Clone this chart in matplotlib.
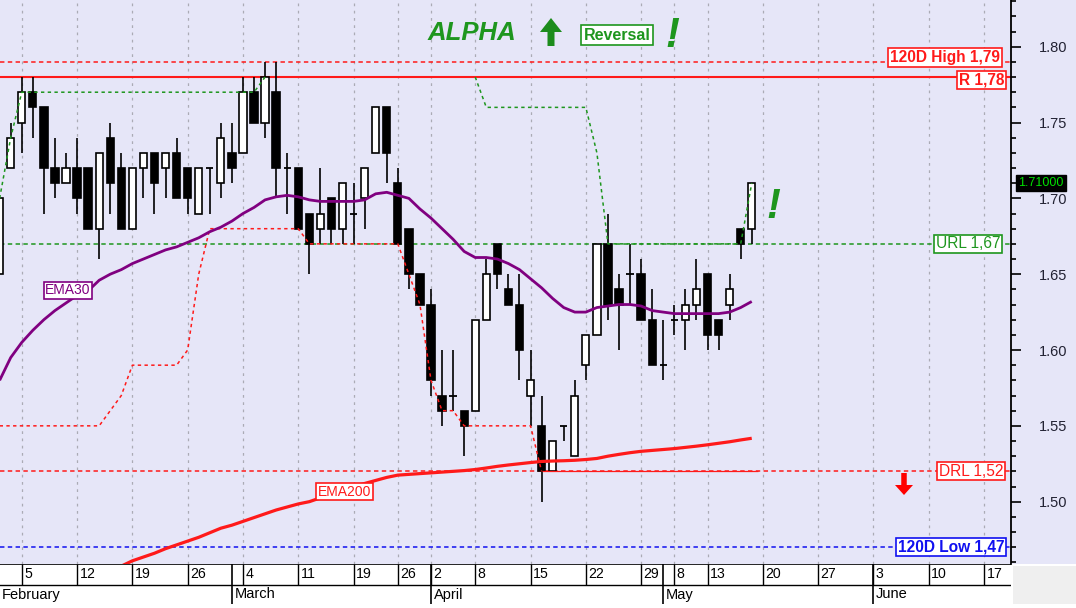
import matplotlib
matplotlib.use("Agg")
import matplotlib.pyplot as plt
import numpy as np
from matplotlib.patches import Polygon, Rectangle
from matplotlib.transforms import IdentityTransform, blended_transform_factory

plt.rcParams['font.family'] = ['Liberation Sans', 'DejaVu Sans']

W, H, DPI = 1076, 608, 100

# ---------------- data ----------------
opens = [1.65, 1.72, 1.75, 1.77, 1.76, 1.72, 1.71, 1.72, 1.72, 1.68,
         1.74, 1.72, 1.68, 1.72, 1.73, 1.72, 1.73, 1.72, 1.69, 1.72,
         1.71, 1.73, 1.73, 1.77, 1.75, 1.77, 1.72, 1.72, 1.69, 1.68,
         1.70, 1.68, 1.69, 1.70, 1.73, 1.76, 1.71, 1.68, 1.65, 1.63,
         1.57, 1.57, 1.56, 1.56, 1.62, 1.67, 1.64, 1.63, 1.57, 1.55,
         1.52, 1.55, 1.53, 1.59, 1.61, 1.67, 1.64, 1.65, 1.65, 1.62,
         1.59, 1.62, 1.62, 1.63, 1.65, 1.62, 1.63, 1.68, 1.68]
highs = [1.70, 1.75, 1.78, 1.78, 1.76, 1.74, 1.73, 1.74, 1.72, 1.73,
         1.75, 1.73, 1.72, 1.73, 1.73, 1.73, 1.74, 1.72, 1.72, 1.72,
         1.75, 1.75, 1.78, 1.78, 1.79, 1.79, 1.73, 1.72, 1.69, 1.72,
         1.70, 1.71, 1.71, 1.72, 1.76, 1.76, 1.72, 1.68, 1.65, 1.64,
         1.60, 1.60, 1.56, 1.62, 1.66, 1.67, 1.65, 1.65, 1.60, 1.57,
         1.54, 1.55, 1.58, 1.61, 1.67, 1.69, 1.65, 1.67, 1.66, 1.64,
         1.62, 1.63, 1.64, 1.66, 1.65, 1.62, 1.65, 1.68, 1.71]
lows = [1.65, 1.72, 1.73, 1.74, 1.69, 1.70, 1.71, 1.69, 1.68, 1.66,
        1.69, 1.68, 1.68, 1.70, 1.69, 1.70, 1.70, 1.69, 1.69, 1.69,
        1.70, 1.71, 1.73, 1.75, 1.74, 1.70, 1.69, 1.68, 1.65, 1.67,
        1.67, 1.67, 1.67, 1.68, 1.73, 1.71, 1.67, 1.64, 1.63, 1.57,
        1.55, 1.56, 1.53, 1.56, 1.62, 1.64, 1.63, 1.58, 1.55, 1.50,
        1.52, 1.54, 1.53, 1.58, 1.61, 1.62, 1.60, 1.63, 1.62, 1.59,
        1.58, 1.61, 1.60, 1.62, 1.60, 1.60, 1.62, 1.66, 1.67]
closes = [1.70, 1.74, 1.77, 1.76, 1.72, 1.71, 1.72, 1.70, 1.68, 1.73,
          1.71, 1.68, 1.72, 1.73, 1.71, 1.73, 1.70, 1.70, 1.72, 1.72,
          1.74, 1.72, 1.77, 1.75, 1.78, 1.72, 1.72, 1.68, 1.67, 1.69,
          1.68, 1.71, 1.69, 1.72, 1.76, 1.73, 1.67, 1.65, 1.63, 1.58,
          1.56, 1.57, 1.55, 1.62, 1.65, 1.65, 1.63, 1.60, 1.58, 1.52,
          1.54, 1.55, 1.57, 1.61, 1.67, 1.63, 1.63, 1.65, 1.62, 1.59,
          1.59, 1.62, 1.63, 1.64, 1.61, 1.61, 1.64, 1.67, 1.71]

ema30 = [1.580, 1.595, 1.605, 1.613, 1.620, 1.626, 1.631, 1.636, 1.639, 1.646,
         1.650, 1.653, 1.657, 1.660, 1.663, 1.666, 1.668, 1.671, 1.674, 1.678,
         1.681, 1.685, 1.690, 1.694, 1.699, 1.701, 1.702, 1.701, 1.699, 1.698,
         1.698, 1.698, 1.698, 1.699, 1.703, 1.704, 1.702, 1.700, 1.693, 1.687,
         1.680, 1.673, 1.665, 1.661, 1.661, 1.660, 1.657, 1.653, 1.647, 1.641,
         1.634, 1.628, 1.625, 1.625, 1.628, 1.629, 1.630, 1.630, 1.629, 1.626,
         1.625, 1.624, 1.624, 1.624, 1.624, 1.624, 1.625, 1.628, 1.632]

ema200_first = 11
ema200 = [1.4575, 1.4610, 1.4635, 1.4660, 1.4690, 1.4715, 1.4740, 1.4765, 1.4795,
          1.4825, 1.4845, 1.4870, 1.4895, 1.4920, 1.4945, 1.4965, 1.4985, 1.5000,
          1.5025, 1.5055, 1.5080, 1.5100, 1.5120, 1.5140, 1.5160, 1.5175, 1.5180,
          1.5185, 1.5190, 1.5195, 1.5200, 1.5205, 1.5212, 1.5222, 1.5233, 1.5242,
          1.5250, 1.5258, 1.5265, 1.5268, 1.5270, 1.5273, 1.5278, 1.5285, 1.5300,
          1.5312, 1.5323, 1.5332, 1.5338, 1.5344, 1.5350, 1.5358, 1.5366, 1.5375,
          1.5385, 1.5395, 1.5407, 1.5418]

nan = np.nan
upper_stop = [1.70, 1.74, 1.77, 1.77, 1.77, 1.77, 1.77, 1.77, 1.77, 1.77,
              1.77, 1.77, 1.77, 1.77, 1.77, 1.77, 1.77, 1.77, 1.77, 1.77,
              1.77, 1.77, 1.77, 1.77, 1.78, nan, nan, nan, nan, nan,
              nan, nan, nan, nan, nan, nan, nan, nan, nan, nan,
              nan, nan, nan, 1.78, 1.76, 1.76, 1.76, 1.76, 1.76, 1.76,
              1.76, 1.76, 1.76, 1.76, 1.73, 1.67, 1.67, 1.67, 1.67, 1.67,
              1.67, 1.67, 1.67, 1.67, 1.67, 1.67, 1.67, 1.67, 1.71]
lower_stop = [1.55, 1.55, 1.55, 1.55, 1.55, 1.55, 1.55, 1.55, 1.55, 1.55,
              1.56, 1.57, 1.59, 1.59, 1.59, 1.59, 1.59, 1.60, 1.65, 1.68,
              1.68, 1.68, 1.68, 1.68, 1.68, 1.68, 1.68, 1.68, 1.67, 1.67,
              1.67, 1.67, 1.67, 1.67, 1.67, 1.67, 1.67, 1.65, 1.63, 1.58,
              1.56, 1.56, 1.55, 1.55, 1.55, 1.55, 1.55, 1.55, 1.55, 1.52]

week_pos = [2, 7, 12, 17, 22, 27, 32, 36, 39, 43, 48, 53, 58, 61, 64, 69, 74, 79, 84, 89]
week_labels = ["5", "12", "19", "26", "4", "11", "19", "26", "2", "8", "15", "22",
               "29", "8", "13", "20", "27", "3", "10", "17"]
month_pos = [0, 21, 39, 60, 79]
month_labels = ["February", "March", "April", "May", "June"]

high120 = 1.79
resist = 1.78
url_level = 1.67
drl_level = 1.52
low120 = 1.47
last_price = 1.71

# ---------------- style ----------------
BG = '#E6E6F8'
RED = '#FF1A1A'
GREEN = '#1E961E'
BLUE = '#1010F0'
PURPLE = '#800080'

fig = plt.figure(figsize=(W / DPI, H / DPI), dpi=DPI, facecolor='white')

PLOT_R = 1011
PLOT_B = 564
ax = fig.add_axes([0, 1 - PLOT_B / H, PLOT_R / W, PLOT_B / H])
ax.set_facecolor(BG)
ax.set_xlim(0.033, 91.44)
ax.set_ylim(1.4589, 1.8308)

# right panel backgrounds
fig.patches.append(Rectangle((PLOT_R / W, 1 - PLOT_B / H), 1 - PLOT_R / W, PLOT_B / H,
                             transform=fig.transFigure, facecolor=BG, edgecolor='none', zorder=-5))
fig.patches.append(Rectangle((1013 / W, 1 - 604 / H), 1 - 1013 / W, 38 / H,
                             transform=fig.transFigure, facecolor='#EFEFEF', edgecolor='none', zorder=-5))

for s in ['left', 'top', 'bottom']:
    ax.spines[s].set_visible(False)
ax.spines['right'].set_color('black')
ax.spines['right'].set_linewidth(1.3)
ax.yaxis.tick_right()
ax.set_yticks([1.50, 1.55, 1.60, 1.65, 1.70, 1.75, 1.80])
ax.set_yticklabels(["%.2f" % v for v in [1.50, 1.55, 1.60, 1.65, 1.70, 1.75, 1.80]])
ax.set_yticks(np.round(np.arange(1.46, 1.831, 0.01), 2), minor=True)
ax.tick_params(axis='y', which='major', direction='out', length=7, width=1.2,
               pad=13, labelsize=10.5, labelcolor='#222233')
ax.tick_params(axis='y', which='minor', direction='out', length=3.5, width=1.2)
ax.set_xticks([])

# vertical grid
for p in week_pos:
    ax.axvline(p, color='#ABABB5', lw=0.9, dashes=(2.2, 3.6), zorder=0)

# horizontal levels
ax.axhline(high120, color=RED, lw=1.1, dashes=(2.9, 2.2), zorder=2)
ax.axhline(resist, color=RED, lw=1.5, zorder=2)
ax.axhline(url_level, color=GREEN, lw=1.1, dashes=(2.9, 2.2), zorder=2)
ax.axhline(drl_level, color=RED, lw=1.1, dashes=(2.9, 2.2), zorder=2)
ax.axhline(low120, color=BLUE, lw=1.1, dashes=(2.9, 2.2), zorder=2)

# candles
n = len(opens)
idx = np.arange(n)
o = np.array(opens); c = np.array(closes); h = np.array(highs); l = np.array(lows)
ax.vlines(idx, l, h, color='black', lw=1.2, zorder=3)
bw = 0.66
for i in range(n):
    if abs(c[i] - o[i]) < 1e-9:
        ax.hlines(o[i], i - bw / 2, i + bw / 2, color='black', lw=1.3, zorder=4)
    else:
        fc = 'white' if c[i] > o[i] else 'black'
        ax.bar(i, abs(c[i] - o[i]), bottom=min(o[i], c[i]), width=bw,
               facecolor=fc, edgecolor='black', linewidth=1.2, zorder=4)

# stop lines
ax.plot(idx[:len(upper_stop)], upper_stop, color=GREEN, lw=1.1, dashes=(2.2, 2.2), zorder=5)
ax.plot(idx[:len(lower_stop)], lower_stop, color=RED, lw=1.1, dashes=(2.2, 2.2), zorder=5)
drl_start = len(lower_stop) - 1
ax.hlines(drl_level, drl_start, n - 0.4, color=RED, lw=0.9, zorder=5)

# EMAs
ax.plot(idx, ema30, color=PURPLE, lw=2.0, zorder=6, solid_capstyle='butt')
ax.plot(np.arange(ema200_first, ema200_first + len(ema200)), ema200, color=RED, lw=2.3,
        zorder=6, solid_capstyle='butt')

ax.text(6.18, 1.6393, 'EMA30', ha='center', va='center', color=PURPLE, fontsize=10,
        bbox=dict(boxstyle='square,pad=0.12', fc='white', ec=PURPLE, lw=1.2), zorder=7)
ax.text(31.2, 1.5067, 'EMA200', ha='center', va='center', color=RED, fontsize=10,
        bbox=dict(boxstyle='square,pad=0.12', fc='white', ec=RED, lw=1.2), zorder=7)

# level labels
def fmt(v):
    return ("%.2f" % v).replace('.', ',')

level_labels = [
    ("120D High " + fmt(high120), high120, RED, 'bold', 4.4, 8),
    ("R " + fmt(resist), resist, RED, 'bold', -3.0, 4),
    ("URL " + fmt(url_level), url_level, GREEN, 'normal', 0.0, 8),
    ("DRL " + fmt(drl_level), drl_level, RED, 'normal', 0.0, 5),
    ("120D Low " + fmt(low120), low120, BLUE, 'bold', 0.0, 4),
]
for txt, val, col, wt, dy, rgap in level_labels:
    ax.annotate(txt, xy=(1, val), xycoords=('axes fraction', 'data'),
                xytext=(-(rgap + 3) * 0.72, dy * 0.72), textcoords='offset points',
                ha='right', va='center', color=col, fontsize=11.2, fontweight=wt,
                bbox=dict(boxstyle='square,pad=0.1', fc='white', ec=col, lw=1.2),
                zorder=8, annotation_clip=False)

# last price box
trans = blended_transform_factory(ax.transAxes, ax.transData)
ax.text(1 + 30 / PLOT_R, last_price, "%.5f" % last_price, transform=trans,
        ha='center', va='center', color='#00E000', fontsize=9,
        bbox=dict(boxstyle='square,pad=0.15', fc='black', ec='black'), clip_on=False, zorder=9)

# title annotations (pixel coords from top-left)
def ftext(x, y, s, **kw):
    fig.text(x / W, 1 - y / H, s, **kw)

ftext(472, 33, 'ALPHA', ha='center', va='center', color=GREEN, fontsize=18.5,
      fontweight='bold', fontstyle='italic')
ftext(617, 35, 'Reversal', ha='center', va='center', color=GREEN, fontsize=11.5,
      fontweight='bold', bbox=dict(boxstyle='square,pad=0.15', fc='white', ec=GREEN, lw=1.2))
ftext(672, 36, '!', ha='center', va='center', color=GREEN, fontsize=30,
      fontweight='bold', fontstyle='italic')
ftext(773, 207, '!', ha='center', va='center', color=GREEN, fontsize=30,
      fontweight='bold', fontstyle='italic')

def arrow(cx, top, bottom, hw, hh, sw, color, up=True):
    if up:
        pts = [(cx, top), (cx + hw / 2, top + hh), (cx + sw / 2, top + hh), (cx + sw / 2, bottom),
               (cx - sw / 2, bottom), (cx - sw / 2, top + hh), (cx - hw / 2, top + hh)]
    else:
        pts = [(cx, bottom), (cx + hw / 2, bottom - hh), (cx + sw / 2, bottom - hh), (cx + sw / 2, top),
               (cx - sw / 2, top), (cx - sw / 2, bottom - hh), (cx - hw / 2, bottom - hh)]
    pts = [(x, H - y) for x, y in pts]
    fig.patches.append(Polygon(pts, closed=True, transform=IdentityTransform(),
                               facecolor=color, edgecolor='none', zorder=20))

arrow(551, 18, 46, 22, 14, 7, '#1C8C1C', up=True)
arrow(904, 473, 495, 18, 10, 5.5, '#FF0000', up=False)

# date axis
axd = fig.add_axes([0, 1 - 604 / H, PLOT_R / W, 40 / H])
axd.set_xlim(ax.get_xlim())
axd.set_ylim(0, 1)
axd.axis('off')
row = 1 - 21 / 40
axd.axhline(1, color='black', lw=1.2)
axd.axhline(row, color='black', lw=1.0)
for p, lab in zip(week_pos, week_labels):
    axd.vlines(p, row, 1, color='black', lw=1.0)
    axd.annotate(lab, xy=(p, (1 + row) / 2), xytext=(2.5 * 0.72, 0), textcoords='offset points',
                 ha='left', va='center', fontsize=10.2, color='black')
for p, lab in zip(month_pos, month_labels):
    if p > month_pos[0]:
        axd.vlines(p, 0, 1, color='black', lw=1.2)
    axd.annotate(lab, xy=(p, row / 2), xytext=(2.5 * 0.72, 0), textcoords='offset points',
                 ha='left', va='center', fontsize=10.5, color='black')

fig.savefig('out.png', dpi=DPI, facecolor='white')
